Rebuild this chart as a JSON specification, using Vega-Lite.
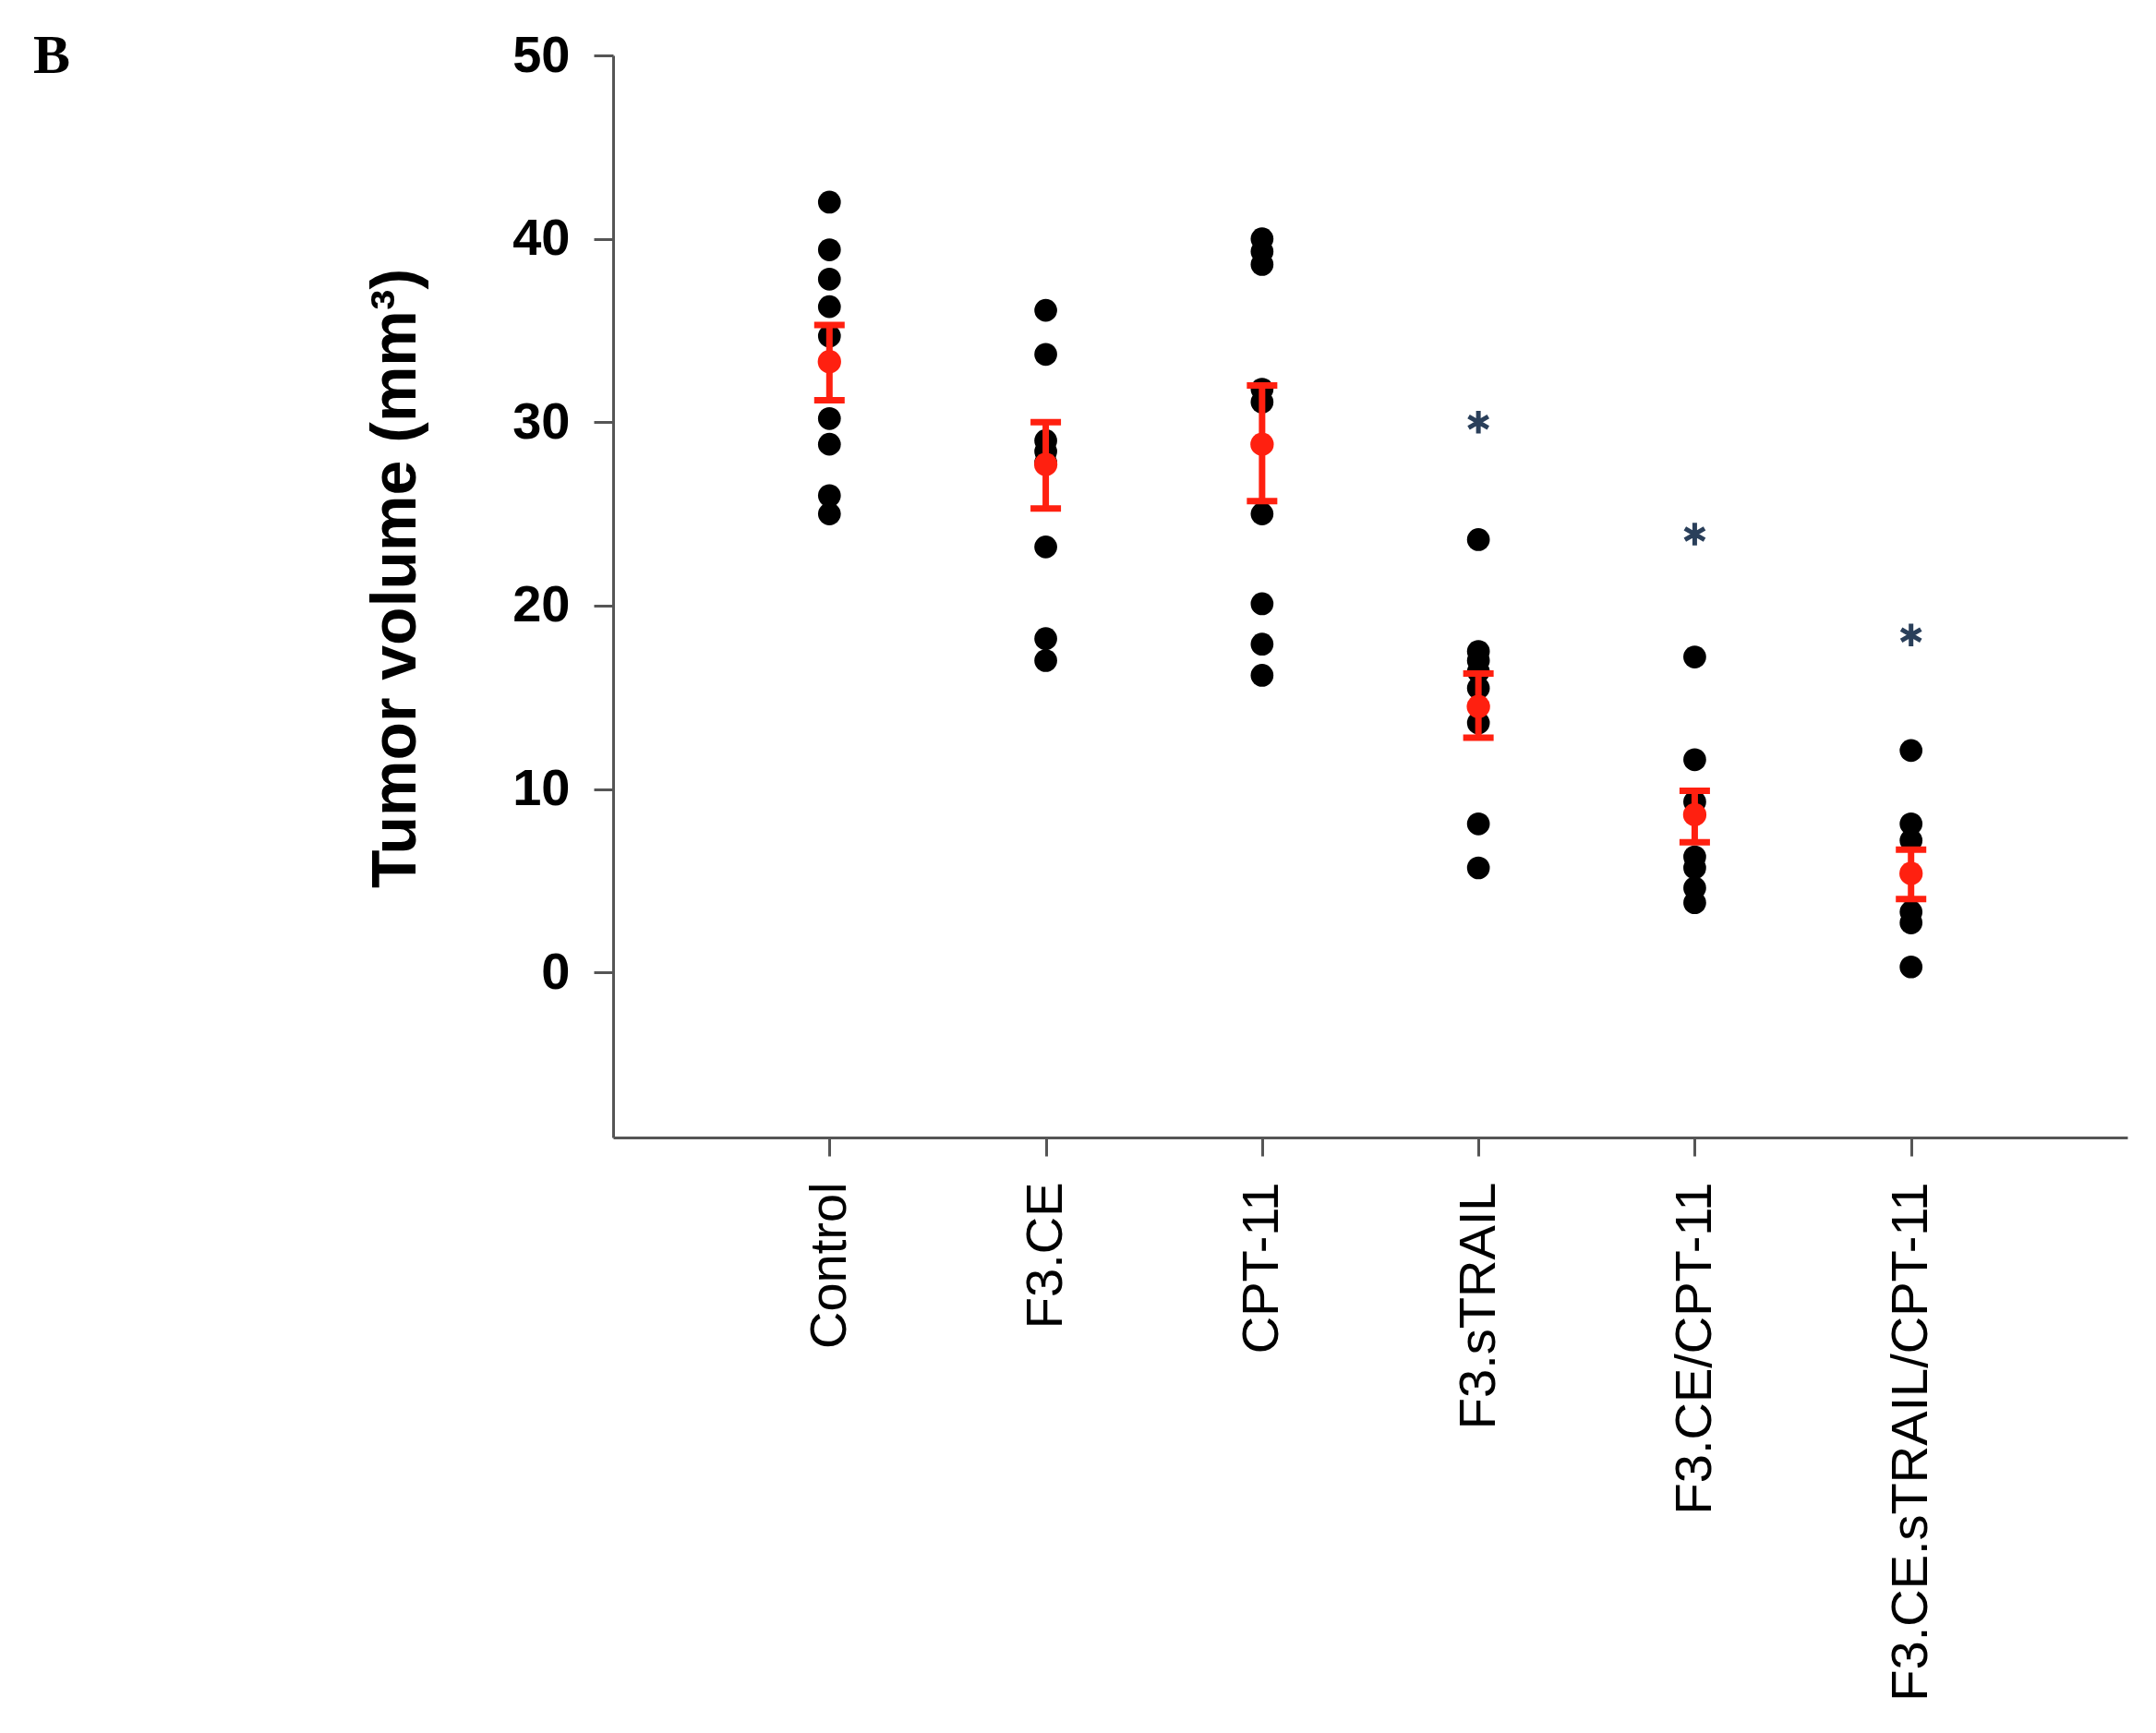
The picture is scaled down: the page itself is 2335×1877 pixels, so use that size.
{
  "$schema": "https://vega.github.io/schema/vega-lite/v6.json",
  "autosize": {"type": "none"},
  "padding": {"left": 664, "top": 60, "right": 31, "bottom": 645},
  "width": 1640,
  "height": 1172,
  "background": "white",
  "title": {"text": "B", "anchor": "start", "frame": "group", "font": "Liberation Serif", "fontSize": 60, "fontWeight": "bold", "color": "black", "dx": -628, "offset": -60},
  "datasets": {
    "points": [
      {"group": "Control", "value": 42.0}, {"group": "Control", "value": 39.4}, {"group": "Control", "value": 37.8}, {"group": "Control", "value": 36.3}, {"group": "Control", "value": 34.7}, {"group": "Control", "value": 30.2}, {"group": "Control", "value": 28.8}, {"group": "Control", "value": 26.0}, {"group": "Control", "value": 25.0},
      {"group": "F3.CE", "value": 36.1}, {"group": "F3.CE", "value": 33.7}, {"group": "F3.CE", "value": 29.0}, {"group": "F3.CE", "value": 28.4}, {"group": "F3.CE", "value": 27.8}, {"group": "F3.CE", "value": 23.2}, {"group": "F3.CE", "value": 18.2}, {"group": "F3.CE", "value": 17.0},
      {"group": "CPT-11", "value": 40.0}, {"group": "CPT-11", "value": 39.3}, {"group": "CPT-11", "value": 38.6}, {"group": "CPT-11", "value": 31.8}, {"group": "CPT-11", "value": 31.1}, {"group": "CPT-11", "value": 25.0}, {"group": "CPT-11", "value": 20.1}, {"group": "CPT-11", "value": 17.9}, {"group": "CPT-11", "value": 16.2},
      {"group": "F3.sTRAIL", "value": 23.6}, {"group": "F3.sTRAIL", "value": 17.5}, {"group": "F3.sTRAIL", "value": 17.0}, {"group": "F3.sTRAIL", "value": 16.4}, {"group": "F3.sTRAIL", "value": 15.5}, {"group": "F3.sTRAIL", "value": 13.6}, {"group": "F3.sTRAIL", "value": 8.1}, {"group": "F3.sTRAIL", "value": 5.7},
      {"group": "F3.CE/CPT-11", "value": 17.2}, {"group": "F3.CE/CPT-11", "value": 11.6}, {"group": "F3.CE/CPT-11", "value": 9.3}, {"group": "F3.CE/CPT-11", "value": 6.3}, {"group": "F3.CE/CPT-11", "value": 5.7}, {"group": "F3.CE/CPT-11", "value": 4.6}, {"group": "F3.CE/CPT-11", "value": 3.8},
      {"group": "F3.CE.sTRAIL/CPT-11", "value": 12.1}, {"group": "F3.CE.sTRAIL/CPT-11", "value": 8.1}, {"group": "F3.CE.sTRAIL/CPT-11", "value": 7.2}, {"group": "F3.CE.sTRAIL/CPT-11", "value": 3.3}, {"group": "F3.CE.sTRAIL/CPT-11", "value": 2.7}, {"group": "F3.CE.sTRAIL/CPT-11", "value": 0.3}
    ],
    "summary": [
      {"group": "Control", "mean": 33.3, "lo": 31.2, "hi": 35.3},
      {"group": "F3.CE", "mean": 27.7, "lo": 25.3, "hi": 30.0},
      {"group": "CPT-11", "mean": 28.8, "lo": 25.7, "hi": 32.0},
      {"group": "F3.sTRAIL", "mean": 14.5, "lo": 12.8, "hi": 16.3},
      {"group": "F3.CE/CPT-11", "mean": 8.6, "lo": 7.1, "hi": 9.9},
      {"group": "F3.CE.sTRAIL/CPT-11", "mean": 5.4, "lo": 4.0, "hi": 6.7}
    ],
    "stars": [
      {"group": "F3.sTRAIL", "y": 30.0},
      {"group": "F3.CE/CPT-11", "y": 23.9},
      {"group": "F3.CE.sTRAIL/CPT-11", "y": 18.4}
    ]
  },
  "encoding": {
    "x": {
      "field": "group", "type": "nominal",
      "sort": ["Control", "F3.CE", "CPT-11", "F3.sTRAIL", "F3.CE/CPT-11", "F3.CE.sTRAIL/CPT-11"],
      "scale": {"type": "point", "padding": 1},
      "axis": {
        "title": null, "labelAngle": -90, "labelFont": "Liberation Sans", "labelFontSize": 56, "labelColor": "black", "labelLimit": 0,
        "labelPadding": 28, "tickSize": 20, "tickWidth": 3, "tickColor": "#555555", "domainColor": "#555555", "domainWidth": 3, "grid": false
      }
    }
  },
  "layer": [
    {
      "data": {"name": "points"},
      "mark": {"type": "circle", "color": "black", "opacity": 1, "size": 610},
      "encoding": {
        "y": {
          "field": "value", "type": "quantitative",
          "scale": {"domain": [-9, 50], "nice": false, "zero": false},
          "axis": {
            "title": "Tumor volume (mm³)", "titleFont": "Liberation Sans", "titleFontSize": 68, "titleFontWeight": "bold", "titleColor": "black", "titlePadding": 91, "titleY": 566,
            "values": [0, 10, 20, 30, 40, 50], "labelFont": "Liberation Sans", "labelFontSize": 56, "labelFontWeight": "bold", "labelColor": "black",
            "labelPadding": 26, "tickSize": 21, "tickWidth": 3, "tickColor": "#555555", "domainColor": "#555555", "domainWidth": 3, "grid": false
          }
        }
      }
    },
    {
      "data": {"name": "summary"},
      "mark": {"type": "rule", "color": "#ff2010", "strokeWidth": 7},
      "encoding": {"y": {"field": "lo", "type": "quantitative"}, "y2": {"field": "hi"}}
    },
    {
      "data": {"name": "summary"},
      "mark": {"type": "tick", "orient": "horizontal", "color": "#ff2010", "size": 33, "thickness": 7, "opacity": 1},
      "encoding": {"y": {"field": "lo", "type": "quantitative"}}
    },
    {
      "data": {"name": "summary"},
      "mark": {"type": "tick", "orient": "horizontal", "color": "#ff2010", "size": 33, "thickness": 7, "opacity": 1},
      "encoding": {"y": {"field": "hi", "type": "quantitative"}}
    },
    {
      "data": {"name": "summary"},
      "mark": {"type": "circle", "color": "#ff2010", "opacity": 1, "size": 640},
      "encoding": {"y": {"field": "mean", "type": "quantitative"}}
    },
    {
      "data": {"name": "stars"},
      "mark": {"type": "point", "shape": "M0,-1L0,1M-0.866,-0.5L0.866,0.5M-0.866,0.5L0.866,-0.5", "filled": false, "stroke": "#2a3f5a", "strokeWidth": 5, "size": 600, "opacity": 1},
      "encoding": {"y": {"field": "y", "type": "quantitative"}}
    }
  ],
  "config": {"view": {"stroke": null}}
}
